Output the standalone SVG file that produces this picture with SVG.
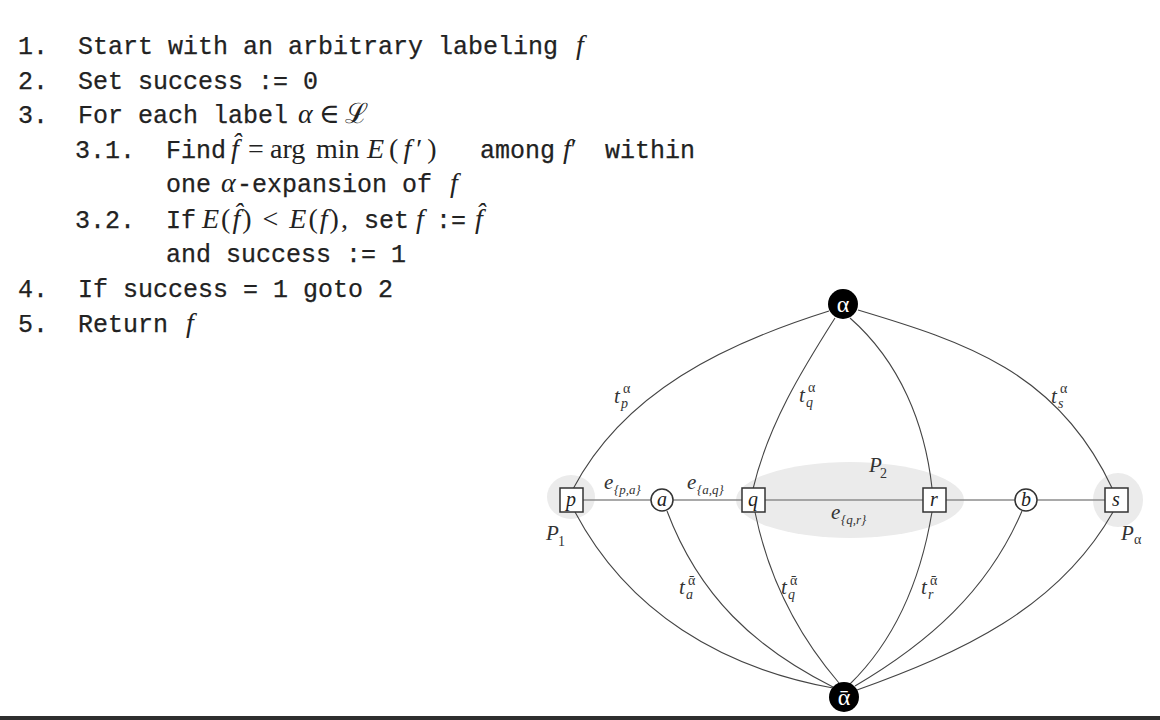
<svg xmlns="http://www.w3.org/2000/svg" width="1160" height="720" viewBox="0 0 1160 720">
<style>
.tt{font-family:"Liberation Mono","DejaVu Sans Mono",monospace;font-size:25px;fill:#222;stroke:#222;stroke-width:0.25}
.m{font-family:"Liberation Serif","DejaVu Serif",serif;font-size:28px;fill:#222}
.i{font-style:italic}
.lbl{font-family:"Liberation Serif","DejaVu Serif",serif;fill:#333}
.big{font-size:21px;font-style:italic}
.sm{font-size:14px}
.es{font-size:13px}
.edge{fill:none;stroke:#444;stroke-width:1.1}
.hline{stroke:#8c8c8c;stroke-width:1.6}
.sq{fill:#fff;stroke:#333;stroke-width:1.5}
.blob{fill:#ebebeb}
.term{fill:#000}
.termtxt{font-family:"Liberation Serif","DejaVu Serif",serif;font-size:24px;fill:#fff}
.nl{font-family:"Liberation Serif","DejaVu Serif",serif;font-size:20px;font-style:italic;fill:#222}
</style>
<rect width="1160" height="720" fill="#fff"/>
<rect x="0" y="716" width="1160" height="4" fill="#2e2e2e"/>

<g id="algorithm">
<text class="tt" x="18" y="54">1.</text>
<text class="tt" x="78" y="54">Start with an arbitrary labeling</text>
<text class="m i" x="576" y="54">f</text>

<text class="tt" x="18" y="89">2.</text>
<text class="tt" x="78" y="89">Set success := 0</text>

<text class="tt" x="18" y="123">3.</text>
<text class="tt" x="78" y="123">For each label</text>
<text class="m" y="123"><tspan class="i" x="298">α</tspan><tspan x="319">∈</tspan><tspan x="345">ℒ</tspan></text>

<text class="tt" x="75" y="158">3.1.</text>
<text class="tt" x="166" y="158">Find</text>
<text class="m" y="158"><tspan class="i" x="231">f̂</tspan><tspan x="248">=</tspan><tspan x="270">arg</tspan><tspan x="316">min</tspan></text>
<text class="m" x="367" y="158" letter-spacing="5"><tspan class="i">E</tspan>(<tspan class="i">f</tspan>′)</text>
<text class="tt" x="480" y="158">among</text>
<text class="m" x="563" y="158"><tspan class="i">f</tspan>′</text>
<text class="tt" x="605" y="158">within</text>

<text class="tt" x="166" y="192">one</text>
<text class="m i" x="221" y="192">α</text>
<text class="tt" x="237" y="192">-expansion of</text>
<text class="m i" x="450" y="192">f</text>

<text class="tt" x="75" y="228">3.2.</text>
<text class="tt" x="166" y="228">If</text>
<text class="m" x="202" y="228" letter-spacing="2"><tspan class="i">E</tspan>(<tspan class="i">f̂</tspan>) &lt; <tspan class="i">E</tspan>(<tspan class="i">f</tspan>),</text>
<text class="tt" x="364" y="228">set</text>
<text class="m i" x="416" y="228">f</text>
<text class="tt" x="436" y="228">:=</text>
<text class="m i" x="475" y="228">f̂</text>

<text class="tt" x="166" y="262">and success := 1</text>

<text class="tt" x="18" y="297">4.</text>
<text class="tt" x="78" y="297">If success = 1 goto 2</text>

<text class="tt" x="18" y="332">5.</text>
<text class="tt" x="78" y="332">Return</text>
<text class="m i" x="186" y="332">f</text>
</g>

<g id="partitions">
<ellipse id="P1-region" class="blob" cx="571" cy="497" rx="24" ry="22"/>
<ellipse id="P2-region" class="blob" cx="850" cy="500" rx="114" ry="38"/>
<ellipse id="Palpha-region" class="blob" cx="1118" cy="500" rx="25" ry="27"/>
</g>

<g id="connectors">
<line class="hline" x1="571" y1="500" x2="1116" y2="500"/>
<path class="edge" d="M829,311 C724,344 624,392 573,489"/>
<path class="edge" d="M835,318 C802,370 768,425 753,489"/>
<path class="edge" d="M850,318 C900,362 925,424 932,488"/>
<path class="edge" d="M858,310 C965,342 1058,372 1112,488"/>
<path class="edge" d="M575,512 C628,612 722,668 833,688"/>
<path class="edge" d="M667,511 C699,596 755,648 833,687"/>
<path class="edge" d="M755,512 C768,576 797,634 839,683"/>
<path class="edge" d="M932,512 C921,578 897,638 850,684"/>
<path class="edge" d="M1022,511 C988,591 928,643 855,686"/>
<path class="edge" d="M1113,512 C1058,609 960,653 857,690"/>
</g>

<g id="edge-labels" class="lbl">
<text class="big" x="614" y="403">t</text><text class="sm" x="623" y="393">α</text><text class="sm i" x="621" y="408">p</text>
<text class="big" x="799" y="402">t</text><text class="sm" x="808" y="392">α</text><text class="sm i" x="806" y="407">q</text>
<text class="big" x="1051" y="403">t</text><text class="sm" x="1060" y="393">α</text><text class="sm i" x="1058" y="408">s</text>
<text class="big" x="679" y="594">t</text><text class="sm" x="688" y="585">ᾱ</text><text class="sm i" x="686" y="599">a</text>
<text class="big" x="781" y="594">t</text><text class="sm" x="790" y="585">ᾱ</text><text class="sm i" x="788" y="599">q</text>
<text class="big" x="921" y="594">t</text><text class="sm" x="930" y="585">ᾱ</text><text class="sm i" x="928" y="599">r</text>
<text class="big" x="604" y="489">e</text><text class="es i" x="614" y="494">{p,a}</text>
<text class="big" x="687" y="489">e</text><text class="es i" x="697" y="494">{a,q}</text>
<text class="big" x="831" y="519">e</text><text class="es i" x="841" y="524">{q,r}</text>
<text class="big" x="546" y="540">P</text><text class="sm" x="558" y="546">1</text>
<text class="big" x="869" y="472">P</text><text class="sm" x="880" y="478">2</text>
<text class="big" x="1121" y="540">P</text><text class="sm" x="1134" y="544">α</text>
</g>

<g id="node-alpha"><circle class="term" cx="843" cy="304" r="15"/><text class="termtxt" x="843" y="312" text-anchor="middle">α</text></g>
<g id="node-alphabar"><circle class="term" cx="844" cy="697" r="15"/><text class="termtxt" x="844" y="705" text-anchor="middle">ᾱ</text></g>
<g id="node-p"><rect class="sq" x="560" y="488" width="23" height="24"/><text class="nl" x="571" y="506" text-anchor="middle">p</text></g>
<g id="node-a"><circle class="sq" cx="662" cy="500" r="11"/><text class="nl" x="662" y="506" text-anchor="middle">a</text></g>
<g id="node-q"><rect class="sq" x="742" y="488" width="23" height="24"/><text class="nl" x="753" y="506" text-anchor="middle">q</text></g>
<g id="node-r"><rect class="sq" x="923" y="488" width="23" height="24"/><text class="nl" x="934" y="506" text-anchor="middle">r</text></g>
<g id="node-b"><circle class="sq" cx="1026" cy="500" r="11"/><text class="nl" x="1026" y="506" text-anchor="middle">b</text></g>
<g id="node-s"><rect class="sq" x="1105" y="488" width="23" height="24"/><text class="nl" x="1116" y="506" text-anchor="middle">s</text></g>
</svg>
